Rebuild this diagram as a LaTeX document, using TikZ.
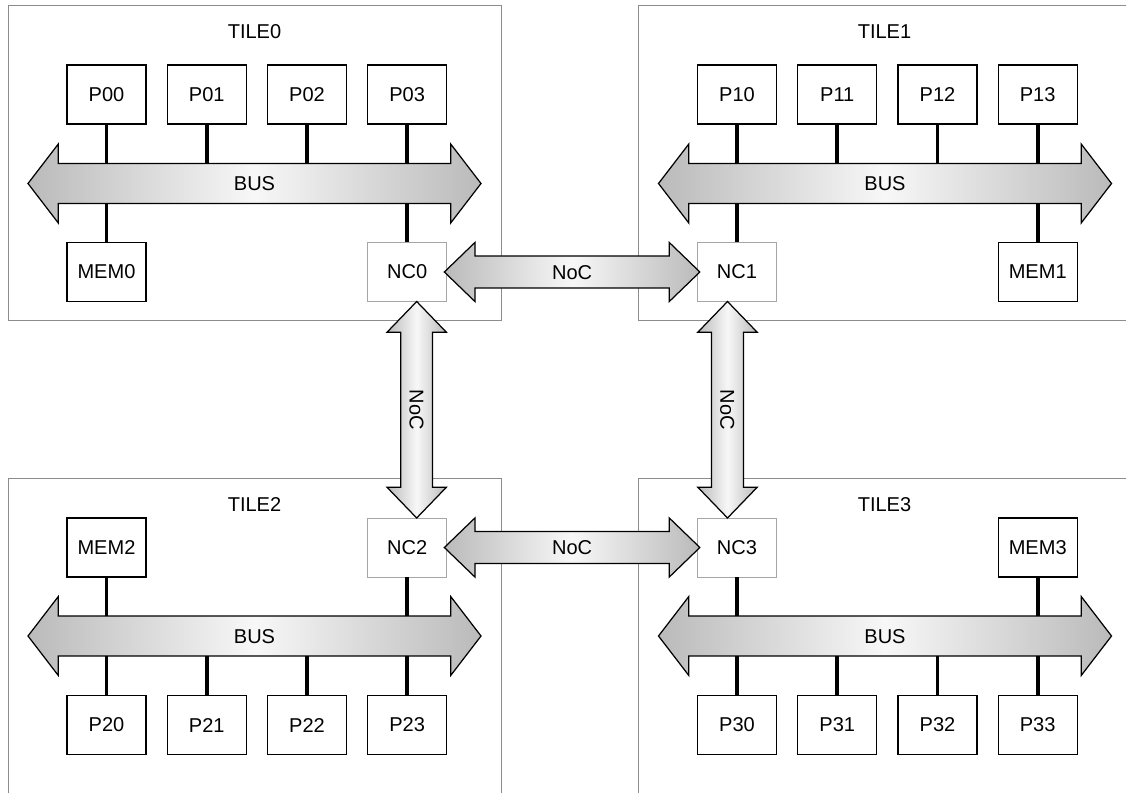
\documentclass[tikz,border=0pt]{standalone}
\usepackage{fontspec}
\setmainfont{Liberation Sans}
\usetikzlibrary{positioning, calc, shapes.arrows}

\tikzset{
  tile/.style={draw=black!45, minimum width=9.86cm, minimum height=6.3cm},
  unit/.style={draw, line width=0.7pt, minimum width=1.58cm, minimum height=1.18cm},
  ncbox/.style={unit, draw=black!35, line width=0.4pt},
  link/.style={line width=2.1pt},
  fat/.style={double arrow, draw, line width=0.7pt, text height=8pt, text depth=0pt,
    left color=black!27, right color=black!27, middle color=black!3},
  bus/.style={fat, minimum height=9.06cm, inner ysep=7pt,
    double arrow head extend=11.1pt, double arrow tip angle=105},
  noc/.style={fat, inner ysep=4.7pt,
    double arrow head extend=7.8pt, double arrow tip angle=88},
}

\begin{document}
\begin{tikzpicture}[node distance=0.4cm, font=\fontsize{11.4}{13}\selectfont]
\useasboundingbox (0,0) rectangle (22.52,15.84);

% tiles
\node[tile] (T0) at (5.09,12.59) {};
\node[tile] (T1) at (17.69,12.59) {};
\node[tile] (T2) at (5.09,3.13) {};
\node[tile] (T3) at (17.69,3.13) {};
\node (L0) at ($(T0.north)+(0,-0.54)$) {TILE0};
\node (L1) at ($(T1.north)+(0,-0.54)$) {TILE1};
\node (L2) at ($(T2.north)+(0,-0.54)$) {TILE2};
\node (L3) at ($(T3.north)+(0,-0.54)$) {TILE3};

% tile 0
\coordinate (b0) at (5.09,12.17);
\node[unit] (P00) at ($(b0)+(-2.96,1.78)$) {P00};
\node[unit] (P01) [right=of P00] {P01};
\node[unit] (P02) [right=of P01] {P02};
\node[unit] (P03) [right=of P02] {P03};
\node[unit] (M0) at ($(b0)+(-2.96,-1.77)$) {MEM0};
\node[ncbox] (N0) at (P03 |- M0) {NC0};
\foreach \n in {P00,P01,P02,P03,M0,N0} \draw[link] (\n) -- (\n |- b0);
\node[bus] (B0) at (b0) {BUS};

% tile 1
\coordinate (b1) at (17.70,12.17);
\node[unit] (P10) at ($(b1)+(-2.96,1.78)$) {P10};
\node[unit] (P11) [right=of P10] {P11};
\node[unit] (P12) [right=of P11] {P12};
\node[unit] (P13) [right=of P12] {P13};
\node[ncbox] (N1) at ($(b1)+(-2.96,-1.77)$) {NC1};
\node[unit] (M1) at (P13 |- N1) {MEM1};
\foreach \n in {P10,P11,P12,P13,M1,N1} \draw[link] (\n) -- (\n |- b1);
\node[bus] (B1) at (b1) {BUS};

% tile 2
\coordinate (b2) at (5.09,3.12);
\node[unit] (P20) at ($(b2)+(-2.96,-1.78)$) {P20};
\node[unit] (P21) [right=of P20] {P21};
\node[unit] (P22) [right=of P21] {P22};
\node[unit] (P23) [right=of P22] {P23};
\node[unit] (M2) at ($(b2)+(-2.96,1.77)$) {MEM2};
\node[ncbox] (N2) at (P23 |- M2) {NC2};
\foreach \n in {P20,P21,P22,P23,M2,N2} \draw[link] (\n) -- (\n |- b2);
\node[bus] (B2) at (b2) {BUS};

% tile 3
\coordinate (b3) at (17.70,3.12);
\node[unit] (P30) at ($(b3)+(-2.96,-1.78)$) {P30};
\node[unit] (P31) [right=of P30] {P31};
\node[unit] (P32) [right=of P31] {P32};
\node[unit] (P33) [right=of P32] {P33};
\node[ncbox] (N3) at ($(b3)+(-2.96,1.77)$) {NC3};
\node[unit] (M3) at (P33 |- N3) {MEM3};
\foreach \n in {P30,P31,P32,P33,M3,N3} \draw[link] (\n) -- (\n |- b3);
\node[bus] (B3) at (b3) {BUS};

% network on chip
\node[noc, minimum height=5.11cm] (H01) at ($(N0.east)!0.5!(N1.west)$) {NoC};
\node[noc, minimum height=5.11cm] (H23) at ($(N2.east)!0.5!(N3.west)$) {NoC};
\node[noc, minimum height=4.33cm, rotate=-90] (V02) at ($(N0.south)!0.5!(N2.north)+(0.19,0)$) {NoC};
\node[noc, minimum height=4.33cm, rotate=-90] (V13) at ($(N1.south)!0.5!(N3.north)+(-0.19,0)$) {NoC};
\end{tikzpicture}
\end{document}
